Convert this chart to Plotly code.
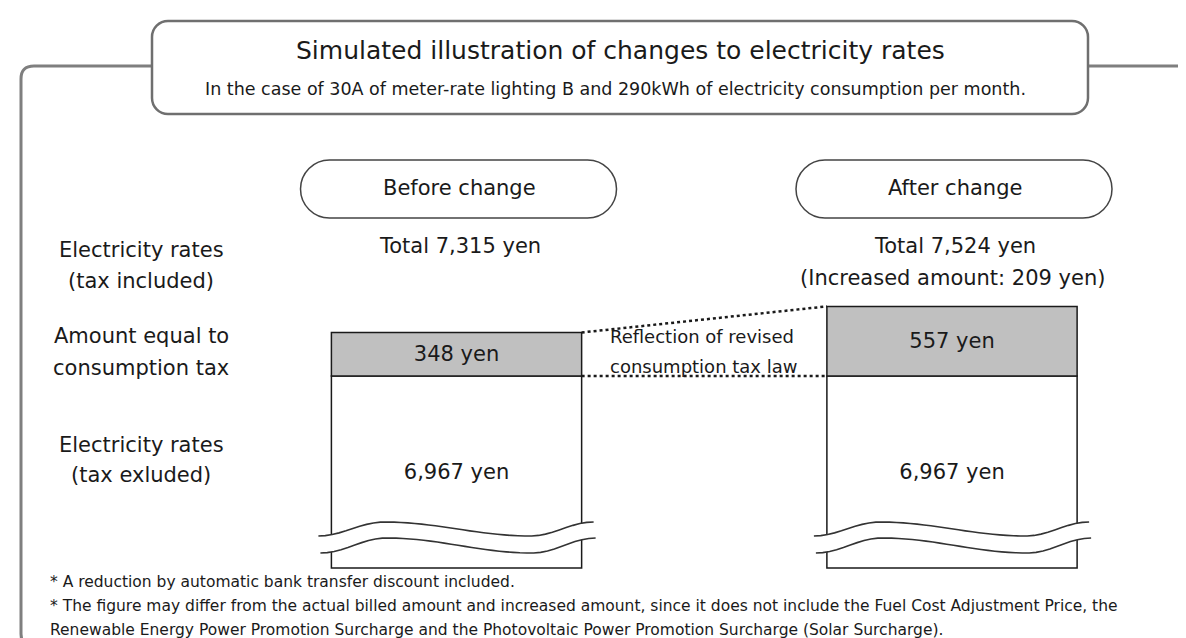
import math
import plotly.graph_objects as go

W, H = 1186, 638
FONT = "DejaVu Sans"
INK = "#1a1a1a"

# ---------------- data ----------------
stages = ["Before change", "After change"]
tax_excluded = [6967, 6967]          # yen
consumption_tax = [348, 557]         # yen
totals = [7315, 7524]                # yen (tax included)
increase = 209                       # yen

title = "Simulated illustration of changes to electricity rates"
subtitle = "In the case of 30A of meter-rate lighting B and 290kWh of electricity consumption per month."
row_labels = [["Electricity rates", "(tax included)"],
              ["Amount equal to", "consumption tax"],
              ["Electricity rates", "(tax exluded)"]]
connector_label = ["Reflection of revised", "consumption tax law"]
footnotes = ["* A reduction by automatic bank transfer discount included.",
             "* The figure may differ from the actual billed amount and increased amount, since it does not include the Fuel Cost Adjustment Price, the",
             "Renewable Energy Power Promotion Surcharge and the Photovoltaic Power Promotion Surcharge (Solar Surcharge)."]

# ---------------- scales ----------------
XR = [-0.9052, 1.4884]              # categorical axis range
BAR_W = 0.505
YR = [4807, 9911]                   # yen axis (broken: bars truncated)
AXIS_BREAK = 5431                   # value at which the tall bars are cut off


def px_x(v):
    return (v - XR[0]) / (XR[1] - XR[0]) * W


def P(x, y):
    return f"{x / W:.5f},{1 - y / H:.5f}"


def rrect(x0, y0, x1, y1, r):
    k = 0.5523 * r
    return (f"M {P(x0 + r, y0)} L {P(x1 - r, y0)} "
            f"C {P(x1 - r + k, y0)} {P(x1, y0 + r - k)} {P(x1, y0 + r)} "
            f"L {P(x1, y1 - r)} "
            f"C {P(x1, y1 - r + k)} {P(x1 - r + k, y1)} {P(x1 - r, y1)} "
            f"L {P(x0 + r, y1)} "
            f"C {P(x0 + r - k, y1)} {P(x0, y1 - r + k)} {P(x0, y1 - r)} "
            f"L {P(x0, y0 + r)} "
            f"C {P(x0, y0 + r - k)} {P(x0 + r - k, y0)} {P(x0 + r, y0)} Z")


def wave(x0, x1, yl, yh, n=40):
    knots = [(0.0, yl), (0.24, yh), (0.77, yl), (1.0, yh)]
    pts = []
    for i in range(n + 1):
        t = i / n
        y = yl
        for (ta, ya), (tb, yb) in zip(knots[:-1], knots[1:]):
            if ta <= t <= tb:
                s = (t - ta) / (tb - ta)
                y = ya + (yb - ya) * (1 - math.cos(math.pi * s)) / 2
                break
        pts.append((x0 + (x1 - x0) * t, y))
    return pts


fig = go.Figure()

fig.add_trace(go.Bar(
    x=stages, y=[v - AXIS_BREAK for v in tax_excluded], base=AXIS_BREAK,
    width=BAR_W, marker=dict(color="white", line=dict(color=INK, width=1.5)),
    text=[f"{v:,} yen" for v in tax_excluded], textposition="inside",
    insidetextanchor="middle", constraintext="none", textangle=0,
    textfont=dict(family=FONT, size=21, color=INK), hoverinfo="skip"))

fig.add_trace(go.Bar(
    x=stages, y=consumption_tax, base=tax_excluded,
    width=BAR_W, marker=dict(color="#c0c0c0", line=dict(color=INK, width=1.5)),
    text=[f"{v:,} yen" for v in consumption_tax], textposition="inside",
    insidetextanchor="middle", constraintext="none", textangle=0,
    textfont=dict(family=FONT, size=21, color=INK), hoverinfo="skip"))

shapes = []
FR = "#7f7f7f"
BOX_L, BOX_R, BOX_T, BOX_B = 144, 1080, 13, 106
FRAME_Y = 58
shapes.append(dict(type="path", xref="paper", yref="paper",
                   path=f"M {P(BOX_L, FRAME_Y)} L {P(26, FRAME_Y)} Q {P(13, FRAME_Y)} {P(13, FRAME_Y + 13)} "
                        f"L {P(13, 626)} Q {P(13, 638)} {P(24, 638)}",
                   line=dict(color=FR, width=3)))
shapes.append(dict(type="path", xref="paper", yref="paper",
                   path=f"M {P(BOX_R, FRAME_Y)} L {P(1186, FRAME_Y)}", line=dict(color=FR, width=3)))
shapes.append(dict(type="path", xref="paper", yref="paper", path=rrect(BOX_L, BOX_T, BOX_R, BOX_B, 16),
                   fillcolor="white", line=dict(color="#6f6f6f", width=2.5)))
for i in range(len(stages)):
    cxt = px_x(i) + 2
    shapes.append(dict(type="path", xref="paper", yref="paper",
                       path=rrect(cxt - 158, 152, cxt + 158, 210, 29),
                       fillcolor="white", line=dict(color="#444444", width=1.5)))

# break waves over the bars
for i in range(len(stages)):
    bx0 = px_x(i - BAR_W / 2)
    bx1 = px_x(i + BAR_W / 2)
    up = wave(bx0 - 13, bx1 + 12, 528, 514)
    lo = wave(bx0 - 11, bx1 + 14, 545, 530)
    poly = "M " + " L ".join(P(x, y) for x, y in up) + " L " + " L ".join(P(x, y) for x, y in reversed(lo)) + " Z"
    shapes.append(dict(type="path", xref="paper", yref="paper", path=poly,
                       fillcolor="white", line=dict(width=0)))
    for pts in (up, lo):
        shapes.append(dict(type="path", xref="paper", yref="paper",
                           path="M " + " L ".join(P(x, y) for x, y in pts),
                           line=dict(color="#333333", width=1.6)))

# dotted connectors between bar segments
shapes.append(dict(type="line", xref="x", yref="y",
                   x0=0 + BAR_W / 2, x1=1 - BAR_W / 2,
                   y0=tax_excluded[0] + consumption_tax[0], y1=tax_excluded[1] + consumption_tax[1],
                   line=dict(color=INK, width=2.5, dash="dot")))
shapes.append(dict(type="line", xref="x", yref="y",
                   x0=0 + BAR_W / 2, x1=1 - BAR_W / 2,
                   y0=tax_excluded[0], y1=tax_excluded[1],
                   line=dict(color=INK, width=2.5, dash="dot")))

ann = []


def text(x, y, s, size=21, anchor="center"):
    ann.append(dict(x=x / W, y=1 - y / H, xref="paper", yref="paper", text=s, showarrow=False,
                    xanchor=anchor, yanchor="middle", font=dict(family=FONT, size=size, color=INK)))


text(612, 43, title, size=25)
text(607, 81, subtitle, size=17.5)
for i, s in enumerate(stages):
    text(px_x(i) + 3, 180, s)
    text(px_x(i) + 3, 238, f"Total {totals[i]:,} yen")
text(px_x(1), 270, f"(Increased amount: {increase} yen)")

row_y = [(242, 273), (328, 360), (437, 467)]
for lines, ys in zip(row_labels, row_y):
    for ln, yy in zip(lines, ys):
        text(133, yy, ln)

text(600, 328, connector_label[0], size=18, anchor="left")
text(600, 358, connector_label[1], size=18, anchor="left")

for s, yy in zip(footnotes, [574, 598, 622]):
    text(40, yy, s, size=15.5, anchor="left")

fig.update_layout(
    width=W, height=H, margin=dict(l=0, r=0, t=0, b=0),
    paper_bgcolor="white", plot_bgcolor="white",
    barmode="overlay", showlegend=False,
    xaxis=dict(type="category", categoryarray=stages, range=XR, visible=False, fixedrange=True),
    yaxis=dict(range=YR, visible=False, fixedrange=True),
    shapes=shapes, annotations=ann,
)

fig.write_html("out.html")
